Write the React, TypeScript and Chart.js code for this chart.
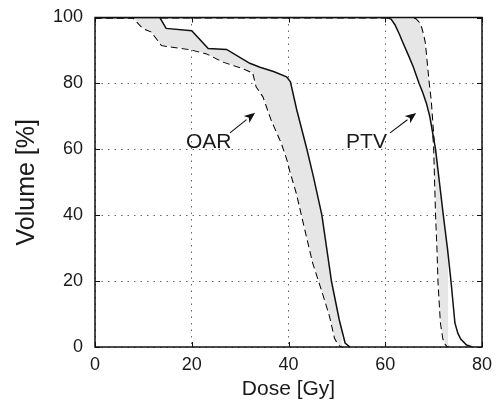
import React, { useEffect, useRef } from "react";
import { Chart, registerables } from "chart.js";

Chart.register(...registerables);

// ---- Data ----
const oarSolidDose = [0, 13.4, 14.7, 20, 23.4, 27.2, 32, 34.1, 36.9, 39.6, 40.4, 41.7, 43.8, 45.1, 46.9, 48.9, 50.5, 51.7, 52.7];
const oarSolidVol = [100, 100, 96.7, 96, 90.6, 90.3, 86.1, 84.9, 83.6, 82, 80.5, 72, 60, 52, 40, 19.8, 8.2, 1.2, 0];

const oarDashedDose = [0, 7.9, 9.9, 11.7, 13.8, 19.6, 23.1, 26.5, 30.6, 32.7, 33.4, 34.8, 36.5, 38.6, 39.9, 40.3, 41.7, 43.8, 45.1, 47.1, 48.6, 49.6, 50.3, 51];
const oarDashedVol = [100, 100, 96.8, 95.7, 91.6, 90.4, 89.1, 86.6, 84.6, 83.2, 79, 76, 68.9, 61.9, 56.2, 53.7, 46.7, 33.5, 25.5, 16.4, 9.2, 2.7, 0.8, 0];

const ptvSolidDose = [0, 60.3, 61.2, 62, 62.9, 63.7, 64.8, 65.8, 67, 67.8, 68.5, 69.2, 69.8, 70.4, 71.2, 72, 72.9, 73.6, 74.4, 75, 75.6, 76.8, 78];
const ptvSolidVol = [100, 100, 99.5, 97.8, 95, 92.2, 88.5, 85, 80, 77, 74, 70, 65, 60, 50, 40, 29.4, 19.8, 7.3, 4.2, 2.4, 0.6, 0];

const ptvDashedDose = [0, 65.1, 66.3, 67.2, 67.8, 68.2, 68.6, 69, 69.4, 70.1, 70.5, 70.8, 71, 71.5, 72, 72.5, 73];
const ptvDashedVol = [100, 100, 99.5, 98.1, 95, 92.2, 86, 80, 75, 60.8, 40, 29.4, 19.8, 7.3, 2.5, 0.8, 0];

const xTicks = [0, 20, 40, 60, 80];
const yTicks = [0, 20, 40, 60, 80, 100];

const labelTexts = ["OAR", "PTV"];
const labelDose = [18.8, 51.9];
const labelVol = [60.4, 60.4];
const arrowFromDose = [27.9, 61];
const arrowFromVol = [65, 65];
const arrowToDose = [33.1, 66.4];
const arrowToVol = [71.1, 71];

const toPts = (xs: number[], ys: number[]) => xs.map((x, i) => ({ x, y: ys[i] }));

const FONT = "'Liberation Sans', Arial, Helvetica, sans-serif";

const boxPlugin = {
  id: "boxAndNotes",
  afterDatasetsDraw(chart: any) {
    const { ctx, chartArea: a, scales } = chart;
    const xs = scales.x;
    const ys = scales.y;
    ctx.save();
    // inward tick marks
    ctx.strokeStyle = "#111";
    ctx.lineWidth = 1;
    ctx.setLineDash([]);
    const tl = 5;
    xTicks.forEach((v) => {
      const px = Math.round(xs.getPixelForValue(v)) + 0.5;
      ctx.beginPath();
      ctx.moveTo(px, a.bottom);
      ctx.lineTo(px, a.bottom - tl);
      ctx.moveTo(px, a.top);
      ctx.lineTo(px, a.top + tl);
      ctx.stroke();
    });
    yTicks.forEach((v) => {
      const py = Math.round(ys.getPixelForValue(v)) + 0.5;
      ctx.beginPath();
      ctx.moveTo(a.left, py);
      ctx.lineTo(a.left + tl, py);
      ctx.moveTo(a.right, py);
      ctx.lineTo(a.right - tl, py);
      ctx.stroke();
    });
    // box
    ctx.lineWidth = 1.5;
    ctx.strokeStyle = "#111";
    ctx.strokeRect(a.left, a.top, a.right - a.left, a.bottom - a.top);

    // annotations
    ctx.fillStyle = "#1a1a1a";
    ctx.font = `21px ${FONT}`;
    ctx.textAlign = "left";
    ctx.textBaseline = "alphabetic";
    labelTexts.forEach((t, i) => {
      ctx.fillText(t, xs.getPixelForValue(labelDose[i]), ys.getPixelForValue(labelVol[i]));
      const x1 = xs.getPixelForValue(arrowFromDose[i]);
      const y1 = ys.getPixelForValue(arrowFromVol[i]);
      const x2 = xs.getPixelForValue(arrowToDose[i]);
      const y2 = ys.getPixelForValue(arrowToVol[i]);
      const ang = Math.atan2(y2 - y1, x2 - x1);
      const hl = 11;
      const hw = 4.5;
      const bx = x2 - hl * Math.cos(ang);
      const by = y2 - hl * Math.sin(ang);
      ctx.strokeStyle = "#111";
      ctx.lineWidth = 1.1;
      ctx.beginPath();
      ctx.moveTo(x1, y1);
      ctx.lineTo(bx, by);
      ctx.stroke();
      ctx.fillStyle = "#111";
      ctx.beginPath();
      ctx.moveTo(x2, y2);
      ctx.lineTo(bx + hw * Math.sin(ang), by - hw * Math.cos(ang));
      ctx.lineTo(x2 - (hl - 3) * Math.cos(ang), y2 - (hl - 3) * Math.sin(ang));
      ctx.lineTo(bx - hw * Math.sin(ang), by + hw * Math.cos(ang));
      ctx.closePath();
      ctx.fill();
      ctx.fillStyle = "#1a1a1a";
    });
    ctx.restore();
  },
};

export default function App() {
  const ref = useRef<HTMLCanvasElement | null>(null);
  useEffect(() => {
    if (!ref.current) return;
    const solid = {
      borderColor: "#111",
      borderWidth: 1.5,
      pointRadius: 0,
      tension: 0,
    };
    const dashed = {
      borderColor: "#000",
      borderWidth: 2,
      pointRadius: 0,
      tension: 0,
      borderDash: [7, 4],
    };
    const chart = new Chart(ref.current, {
      type: "line",
      data: {
        datasets: [
          { ...solid, label: "OAR", data: toPts(oarSolidDose, oarSolidVol), fill: "+1", backgroundColor: "#e6e6e6" },
          { ...dashed, label: "OAR dashed", data: toPts(oarDashedDose, oarDashedVol), fill: false },
          { ...solid, label: "PTV", data: toPts(ptvSolidDose, ptvSolidVol), fill: "+1", backgroundColor: "#e6e6e6" },
          { ...dashed, label: "PTV dashed", data: toPts(ptvDashedDose, ptvDashedVol), fill: false },
        ],
      },
      options: {
        animation: false,
        responsive: true,
        maintainAspectRatio: false,
        layout: { padding: { left: 0, right: 18, top: 17.5, bottom: 0 } },
        plugins: { legend: { display: false }, tooltip: { enabled: false } },
        scales: {
          x: {
            type: "linear",
            min: 0,
            max: 80,
            afterFit: (s: any) => {
              s.height = 60;
            },
            ticks: { stepSize: 20, color: "#1a1a1a", padding: 7, font: { size: 18, family: FONT } },
            grid: { color: "#666", lineWidth: 1, drawTicks: false, tickLength: 0 },
            border: { display: false, dash: [1.5, 5] },
            title: {
              display: true,
              text: "Dose [Gy]",
              color: "#1a1a1a",
              font: { size: 21, family: FONT },
              padding: { top: 0, bottom: 5 },
            },
          },
          y: {
            type: "linear",
            min: 0,
            max: 100,
            afterFit: (s: any) => {
              s.width = 95;
              s.paddingTop = 0;
              s.paddingBottom = 0;
            },
            ticks: { stepSize: 20, color: "#1a1a1a", padding: 12, font: { size: 18, family: FONT, lineHeight: 0.8 } },
            grid: { color: "#666", lineWidth: 1, drawTicks: false, tickLength: 0 },
            border: { display: false, dash: [1.5, 5] },
            title: {
              display: true,
              text: "Volume [%]",
              color: "#1a1a1a",
              font: { size: 25, family: FONT },
              padding: { top: 12, bottom: 0 },
            },
          },
        },
      },
      plugins: [boxPlugin],
    });
    return () => chart.destroy();
  }, []);
  return (
    <div style={{ position: "absolute", left: 0, top: 0, width: 500, height: 407 }}>
      <canvas ref={ref} />
    </div>
  );
}
